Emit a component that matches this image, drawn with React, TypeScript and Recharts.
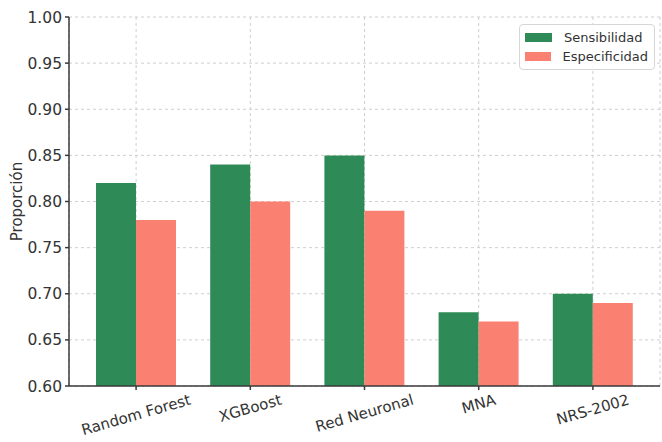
import React from 'react';
import { BarChart, Bar, XAxis, YAxis, CartesianGrid } from 'recharts';

// Sensitivity / specificity per model
const models = ['Random Forest', 'XGBoost', 'Red Neuronal', 'MNA', 'NRS-2002'];
const sensibilidad = [0.82, 0.84, 0.85, 0.68, 0.70];
const especificidad = [0.78, 0.80, 0.79, 0.67, 0.69];
const yTicks = [0.6, 0.65, 0.7, 0.75, 0.8, 0.85, 0.9, 0.95, 1.0];

const series = [
  { key: 'sensibilidad', name: 'Sensibilidad', color: '#2e8b57' },
  { key: 'especificidad', name: 'Especificidad', color: '#fa8072' },
];

const data = models.map((name, i) => ({
  name,
  sensibilidad: sensibilidad[i],
  especificidad: especificidad[i],
}));

const FONT = '"DejaVu Sans", sans-serif';
const TEXT = '#333333';
const AXIS = '#3a3a3a';
const LABEL_ANGLE = 16;

let ctx: CanvasRenderingContext2D | null = null;
const textWidth = (s: string, size: number) => {
  if (!ctx) ctx = document.createElement('canvas').getContext('2d');
  if (!ctx) return s.length * size * 0.6;
  ctx.font = `${size}px ${FONT}`;
  return ctx.measureText(s).width;
};

// rotated label, top of its rotated box sits at a fixed distance below the axis
const RotatedTick = (props: any) => {
  const { x, y, payload } = props;
  const size = 15;
  const w = textWidth(payload.value, size);
  const rad = (LABEL_ANGLE * Math.PI) / 180;
  const boxH = w * Math.sin(rad) + size * 1.16 * Math.cos(rad);
  const cy = y + boxH / 2;
  return (
    <g transform={`translate(${x},${cy}) rotate(${-LABEL_ANGLE})`}>
      <text
        x={0}
        y={0}
        textAnchor="middle"
        dominantBaseline="central"
        fontFamily={FONT}
        fontSize={size}
        fill={TEXT}
      >
        {payload.value}
      </text>
    </g>
  );
};

const YLabel = (props: any) => {
  const vb = props.viewBox || { y: 17, height: 369 };
  const cx = 17;
  const cy = vb.y + vb.height / 2;
  return (
    <text
      x={cx}
      y={cy}
      transform={`rotate(-90, ${cx}, ${cy})`}
      textAnchor="middle"
      dominantBaseline="central"
      fontFamily={FONT}
      fontSize={15}
      fill={TEXT}
    >
      Proporción
    </text>
  );
};

const LegendBox = () => (
  <div
    style={{
      position: 'absolute',
      left: 519,
      top: 24,
      width: 136,
      boxSizing: 'border-box',
      border: '1px solid #d6d6d6',
      borderRadius: 4,
      background: 'rgba(255,255,255,0.85)',
      padding: '3px 6px 3px 5px',
      fontFamily: FONT,
      fontSize: 13,
      color: TEXT,
    }}
  >
    {series.map((s) => (
      <div key={s.key} style={{ display: 'flex', alignItems: 'center', height: 19 }}>
        <span
          style={{ width: 27, height: 9, background: s.color, display: 'inline-block', marginRight: 12 }}
        />
        <span>{s.name}</span>
      </div>
    ))}
  </div>
);

const App: React.FC = () => {
  return (
    <div style={{ position: 'absolute', left: 0, top: 0, width: 662, height: 442, background: '#fff' }}>
      <BarChart
        width={662}
        height={442}
        data={data}
        margin={{ top: 17, right: 2, bottom: 0, left: 0 }}
        barCategoryGap={17}
        barGap={0}
      >
        <CartesianGrid stroke="#cfcfcf" strokeDasharray="3 3" />
        <XAxis
          dataKey="name"
          padding={{ left: 10, right: 10 }}
          tick={<RotatedTick />}
          tickSize={4}
          tickMargin={1}
          interval={0}
          stroke={AXIS}
          strokeWidth={1.5}
          height={56}
        />
        <YAxis
          domain={[0.6, 1.0]}
          ticks={yTicks}
          tickFormatter={(v: number) => v.toFixed(2)}
          allowDataOverflow
          width={69}
          tickSize={4}
          tickMargin={3}
          stroke={AXIS}
          strokeWidth={1.5}
          tick={{ fill: TEXT, fontSize: 15.5, fontFamily: FONT }}
          label={<YLabel />}
        />
        {series.map((s) => (
          <Bar key={s.key} dataKey={s.key} name={s.name} fill={s.color} isAnimationActive={false} />
        ))}
      </BarChart>
      <LegendBox />
    </div>
  );
};

export default App;
